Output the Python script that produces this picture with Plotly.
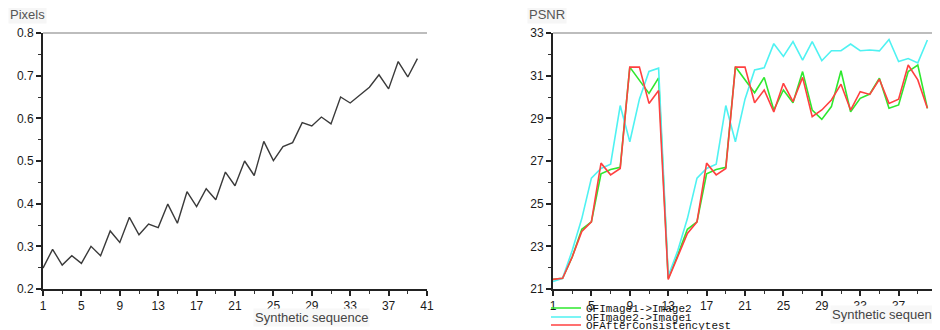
import plotly.graph_objects as go

# ---------------- data ----------------
frames = list(range(1, 41))

pixels_error = [0.249, 0.293, 0.256, 0.278, 0.260, 0.300, 0.278, 0.336, 0.309, 0.368,
                0.327, 0.352, 0.344, 0.399, 0.354, 0.428, 0.393, 0.435, 0.409, 0.474,
                0.442, 0.500, 0.466, 0.546, 0.501, 0.534, 0.543, 0.590, 0.582, 0.603,
                0.587, 0.650, 0.636, 0.655, 0.673, 0.702, 0.669, 0.733, 0.697, 0.740]

psnr_img1_to_img2 = [21.45, 21.5, 22.5, 23.8, 24.15, 26.4, 26.6, 26.7, 31.4, 30.8,
                     30.17, 30.9, 21.5, 22.6, 23.8, 24.15, 26.4, 26.6, 26.7, 31.42,
                     30.8, 30.2, 30.92, 29.39, 30.33, 29.73, 31.19, 29.39, 28.95, 29.55,
                     31.23, 29.31, 29.94, 30.14, 30.88, 29.47, 29.63, 31.19, 31.5, 29.47]

psnr_img2_to_img1 = [21.35, 21.5, 22.8, 24.3, 26.2, 26.65, 26.85, 29.6, 27.9, 29.9,
                     31.2, 31.35, 21.6, 22.8, 24.3, 26.2, 26.65, 26.85, 29.6, 27.9,
                     29.9, 31.27, 31.37, 32.5, 31.9, 32.6, 31.73, 32.6, 31.7, 32.17,
                     32.17, 32.48, 32.17, 32.2, 32.16, 32.7, 31.66, 31.8, 31.6, 32.67]

psnr_after_consistency = [21.45, 21.5, 22.5, 23.7, 24.15, 26.9, 26.35, 26.65, 31.4, 31.4,
                          29.7, 30.3, 21.45, 22.5, 23.6, 24.15, 26.9, 26.35, 26.65, 31.4,
                          31.4, 29.73, 30.33, 29.3, 30.64, 29.78, 30.92, 29.08, 29.39, 29.86,
                          30.6, 29.39, 30.25, 30.12, 30.83, 29.7, 29.9, 31.5, 30.8, 29.47]

series_names = ["OFImage1->Image2", "OFImage2->Image1", "OFAfterConsistencytest"]
series_colors = ["#2ee82e", "#4ff2f2", "#ff4040"]

x_ticks = [1, 5, 9, 13, 17, 21, 25, 29, 33, 37, 41]
pixels_ticks = [0.2, 0.3, 0.4, 0.5, 0.6, 0.7, 0.8]
psnr_ticks = [21, 23, 25, 27, 29, 31, 33]

x_title = "Synthetic sequence"
left_title = "Pixels"
right_title = "PSNR"

# ---------------- figure ----------------
# the page body adds an 8px margin, so the figure is 8px smaller and
# positions below are given in window pixels and shifted by that offset
OFF = 8
W, H = 940 - OFF, 330 - OFF


def fx(px):
    return (px - OFF) / W


def fy(py):
    return 1 - (py - OFF) / H


tick_font = dict(family="Liberation Sans Narrow, Liberation Sans, Arial", size=12, color="#1a1a1a")

fig = go.Figure()

fig.add_trace(go.Scatter(x=frames, y=pixels_error, mode="lines",
                         line=dict(color="#3a3a3a", width=1.4),
                         xaxis="x", yaxis="y", showlegend=False))

psnr_series = [psnr_img1_to_img2, psnr_img2_to_img1, psnr_after_consistency]
legend_ids = ["legend", "legend2", "legend3"]
for vals, name, col, lg in zip(psnr_series, series_names, series_colors, legend_ids):
    fig.add_trace(go.Scatter(x=frames, y=vals, mode="lines", name=name,
                             line=dict(color=col, width=1.6),
                             xaxis="x2", yaxis="y2", legend=lg, showlegend=True))

y_dom = [fy(289), fy(33)]


def xax(domain, anchor):
    return dict(domain=domain, anchor=anchor, range=[1, 41], automargin=False,
                tickmode="linear", tick0=x_ticks[0], dtick=x_ticks[1] - x_ticks[0],
                ticks="outside", ticklen=5, tickwidth=1.5, tickcolor="#222",
                showline=True, linecolor="#222", linewidth=2,
                showgrid=False, zeroline=False, tickfont=tick_font,
                minor=dict(tick0=x_ticks[0], dtick=(x_ticks[1] - x_ticks[0]) / 2,
                           ticks="outside", ticklen=3, tickwidth=1.2,
                           tickcolor="#333", showgrid=False))


def yax(domain, anchor, ticks, fmt):
    step = ticks[1] - ticks[0]
    return dict(domain=domain, anchor=anchor, range=[ticks[0], ticks[-1]],
                automargin=False, tickmode="linear", tick0=ticks[0], dtick=step,
                tickformat=fmt, ticks="outside", ticklen=5, tickwidth=1.5,
                tickcolor="#222", showline=True, linecolor="#222", linewidth=2,
                showgrid=False, zeroline=False, tickfont=tick_font,
                minor=dict(tick0=ticks[0], dtick=step / 2, ticks="outside",
                           ticklen=3, tickwidth=1.2, tickcolor="#333",
                           showgrid=False))


leg_font = dict(family="Liberation Mono, DejaVu Sans Mono", size=11, color="#111")
legend_common = dict(x=fx(546), xanchor="left", yanchor="middle",
                     bgcolor="rgba(0,0,0,0)", borderwidth=0, font=leg_font,
                     itemwidth=30, tracegroupgap=0)

title_font = dict(family="Liberation Sans, Arial", size=13, color="#555")
xtitle_font = dict(family="Liberation Sans, Arial", size=13, color="#444")

fig.update_layout(
    width=W, height=H,
    margin=dict(l=0, r=0, t=0, b=0, autoexpand=False),
    paper_bgcolor="white", plot_bgcolor="white",
    xaxis=xax([fx(43), fx(427)], "y"),
    yaxis=yax(y_dom, "x", pixels_ticks, ".1f"),
    xaxis2=xax([fx(553), fx(937)], "y2"),
    yaxis2=yax(y_dom, "x2", psnr_ticks, "d"),
    legend=dict(legend_common, y=fy(308)),
    legend2=dict(legend_common, y=fy(317)),
    legend3=dict(legend_common, y=fy(325)),
    shapes=[
        dict(type="line", xref="x domain", yref="y domain", x0=0, x1=1, y0=1, y1=1,
             line=dict(color="#bdbdbd", width=2)),
        dict(type="line", xref="x2 domain", yref="y2 domain", x0=0, x1=1, y0=1, y1=1,
             line=dict(color="#bdbdbd", width=2)),
        dict(type="line", xref="x2 domain", yref="y2 domain", x0=1, x1=1, y0=0, y1=1,
             line=dict(color="#444", width=1.5)),
    ],
    annotations=[
        dict(text=left_title, xref="paper", yref="paper", x=fx(8), y=fy(14),
             xanchor="left", yanchor="middle", showarrow=False, bgcolor="#f6f6f6",
             font=title_font),
        dict(text=right_title, xref="paper", yref="paper", x=fx(527), y=fy(14),
             xanchor="left", yanchor="middle", showarrow=False, bgcolor="#f6f6f6",
             font=title_font),
        dict(text=x_title, xref="paper", yref="paper", x=fx(253), y=fy(317),
             xanchor="left", yanchor="middle", showarrow=False, bgcolor="#f8f8f8",
             font=xtitle_font),
        dict(text=x_title, xref="paper", yref="paper", x=fx(830), y=fy(314),
             xanchor="left", yanchor="middle", showarrow=False, bgcolor="#f8f8f8",
             font=xtitle_font),
    ],
)

fig.write_html("out.html")
